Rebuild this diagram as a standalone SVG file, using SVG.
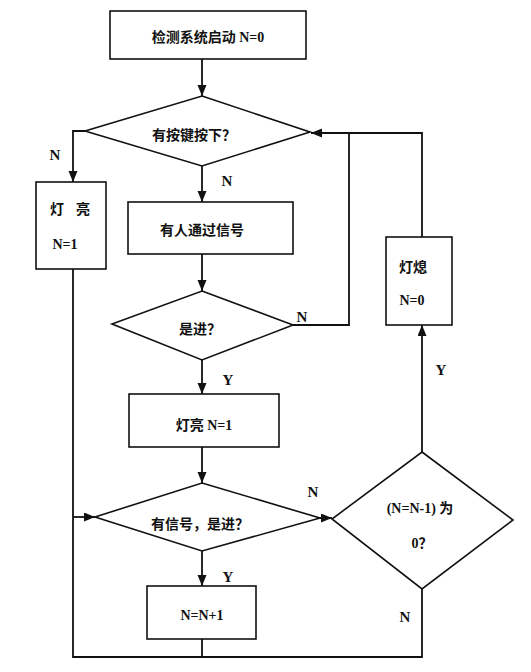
<svg xmlns="http://www.w3.org/2000/svg" width="531" height="672" viewBox="0 0 531 672">
<style>
.box{fill:#fff;stroke:#111;stroke-width:1.6}
.ln{fill:none;stroke:#111;stroke-width:1.8}
.t{font-family:"Liberation Serif","Noto Sans CJK SC",serif;font-size:14px;font-weight:bold;fill:#111;text-anchor:middle}
.l{font-family:"Liberation Serif",serif;font-size:15px;font-weight:bold;fill:#111;text-anchor:middle}
</style>
<defs>
<marker id="ah" markerUnits="userSpaceOnUse" markerWidth="12" markerHeight="10" refX="11" refY="4.5" orient="auto">
<path d="M0,0 L11,4.5 L0,9 z" fill="#111"/>
</marker>
</defs>
<rect width="531" height="672" fill="#fff"/>
<g id="connectors">
<path class="ln" d="M202,59 V96" marker-end="url(#ah)"/>
<path class="ln" d="M85,131 H73 V182" marker-end="url(#ah)"/>
<path class="ln" d="M202,166 V202" marker-end="url(#ah)"/>
<path class="ln" d="M202,254 V291" marker-end="url(#ah)"/>
<path class="ln" d="M293,325 H349 V133"/>
<path class="ln" d="M422,237 V133 H311" marker-end="url(#ah)"/>
<path class="ln" d="M202,360 V394" marker-end="url(#ah)"/>
<path class="ln" d="M202,447 V483" marker-end="url(#ah)"/>
<path class="ln" d="M73,269 V657 H422 V589"/>
<path class="ln" d="M202,639 V657"/>
<path class="ln" d="M73,517 H95" marker-end="url(#ah)"/>
<path class="ln" d="M318,518 H332" marker-end="url(#ah)"/>
<path class="ln" d="M202,551 V586" marker-end="url(#ah)"/>
<path class="ln" d="M422,452 V325" marker-end="url(#ah)"/>
</g>
<g id="labels">
<text class="l" x="55" y="160">N</text>
<text class="l" x="227" y="186">N</text>
<text class="l" x="302" y="322">N</text>
<text class="l" x="228" y="385">Y</text>
<text class="l" x="441" y="375">Y</text>
<text class="l" x="313" y="497">N</text>
<text class="l" x="228" y="582">Y</text>
<text class="l" x="405" y="622">N</text>
</g>
<g id="start">
<rect class="box" x="110" y="11" width="196" height="48"/>
<text class="t" x="208" y="42">检测系统启动 N=0</text>
</g>
<g id="d1">
<polygon class="box" points="202,96 310,132 202,166 85,131"/>
<text class="t" x="194" y="140">有按键按下？</text>
</g>
<g id="light-on-left">
<rect class="box" x="36" y="182" width="70" height="87"/>
<text class="t" x="70" y="214"><tspan x="57">灯</tspan><tspan x="83">亮</tspan></text>
<text class="t" x="65" y="249">N=1</text>
</g>
<g id="signal">
<rect class="box" x="128" y="202" width="165" height="52"/>
<text class="t" x="202" y="235">有人通过信号</text>
</g>
<g id="d2">
<polygon class="box" points="202,291 293,325 202,360 112,324"/>
<text class="t" x="200" y="334">是进？</text>
</g>
<g id="light-off">
<rect class="box" x="386" y="237" width="66" height="88"/>
<text class="t" x="413" y="272">灯熄</text>
<text class="t" x="412" y="305">N=0</text>
</g>
<g id="light-on">
<rect class="box" x="129" y="394" width="150" height="53"/>
<text class="t" x="204" y="430">灯亮 N=1</text>
</g>
<g id="d3">
<polygon class="box" points="202,483 320,518 202,551 95,517"/>
<text class="t" x="200" y="529">有信号，是进？</text>
</g>
<g id="d4">
<polygon class="box" points="422,452 513,520 422,589 332,519"/>
<text class="t" x="420" y="513">(N=N-1) 为</text>
<text class="t" x="422" y="548">0？</text>
</g>
<g id="inc">
<rect class="box" x="147" y="586" width="109" height="53"/>
<text class="t" x="202" y="620">N=N+1</text>
</g>
</svg>
